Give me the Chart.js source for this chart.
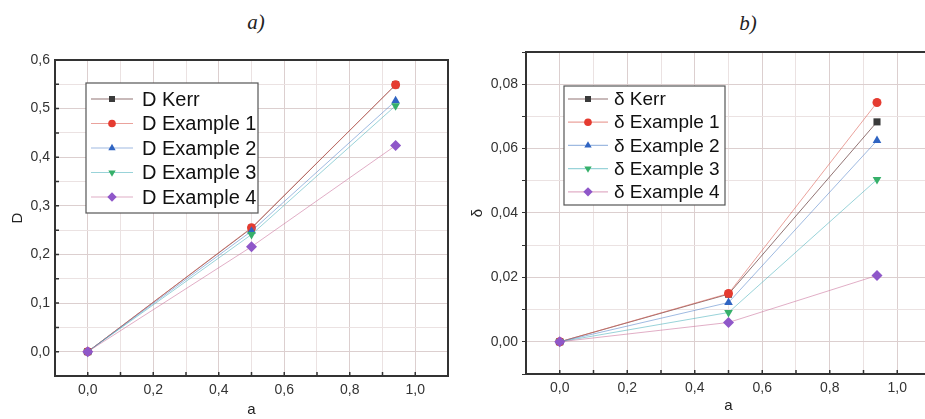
<!DOCTYPE html>
<html lang="en">
<head>
<meta charset="UTF-8">
<title>D and δ versus a</title>
<script src="https://cdn.jsdelivr.net/npm/chart.js"></script>
<style>
  html, body { margin: 0; padding: 0; background: #fff; overflow: hidden; width: 925px; height: 419px; }
  .panel { position: absolute; top: 0; }
  .panel-title {
    position: absolute;
    font-family: "Liberation Serif", "DejaVu Serif", serif;
    font-style: italic;
    font-size: 21px;
    color: #222;
    transform: translateX(-50%);
  }
</style>
</head>
<body>
<div class="panel-title" style="left:256px; top:10px;">a)</div>
<div class="panel-title" style="left:748px; top:11px;">b)</div>
<div class="panel" style="left:0;"><canvas id="chartD" width="460" height="419"></canvas></div>
<div class="panel" style="left:460px;"><canvas id="chartDelta" width="480" height="419"></canvas></div>

<script>
// spin parameter a (same three points for every curve)
const aValues = [0, 0.5, 0.94];

// panel a) : D
const dKerr = [0, 0.254, 0.549];
const dEx1  = [0, 0.255, 0.549];
const dEx2  = [0, 0.248, 0.516];
const dEx3  = [0, 0.241, 0.506];
const dEx4  = [0, 0.216, 0.424];

// panel b) : delta
const deltaKerr = [0, 0.0148, 0.0683];
const deltaEx1  = [0, 0.0150, 0.0743];
const deltaEx2  = [0, 0.0122, 0.0625];
const deltaEx3  = [0, 0.0091, 0.0504];
const deltaEx4  = [0, 0.0060, 0.0206];

const seriesNames = ['Kerr', 'Example 1', 'Example 2', 'Example 3', 'Example 4'];

// grid positions and the ones that carry a label
const aGrid      = [-0.1, 0, 0.1, 0.2, 0.3, 0.4, 0.5, 0.6, 0.7, 0.8, 0.9, 1.0, 1.1];
const aLabelled  = [0, 0.2, 0.4, 0.6, 0.8, 1.0];
const dGrid      = [-0.05, 0, 0.05, 0.1, 0.15, 0.2, 0.25, 0.3, 0.35, 0.4, 0.45, 0.5, 0.55, 0.6];
const dLabelled  = [0, 0.1, 0.2, 0.3, 0.4, 0.5, 0.6];
const deltaGrid     = [-0.01, 0, 0.01, 0.02, 0.03, 0.04, 0.05, 0.06, 0.07, 0.08, 0.09];
const deltaLabelled = [0, 0.02, 0.04, 0.06, 0.08];

// marker / line look per series
const markerColors   = ['#3a3a3a', '#e53b30', '#2f64c2', '#36b06a', '#8f57c9'];
const lineColors     = ['rgba(110,70,70,0.75)', 'rgba(220,100,90,0.6)', 'rgba(80,130,200,0.55)',
                        'rgba(70,175,185,0.55)', 'rgba(205,120,160,0.6)'];
const pointStyles    = ['rect', 'circle', 'triangle', 'triangle', 'rectRot'];
const pointRotations = [0, 0, 0, 180, 0];
const pointRadii     = [5, 4.5, 5, 5, 5.5];

const SANS = '"Liberation Sans", Arial, sans-serif';

function has(list, v) {
  return list.some(x => Math.abs(x - v) < 1e-9);
}

function commaLabel(v, digits) {
  if (Math.abs(v) < 1e-9) v = 0;
  return v.toFixed(digits).replace('.', ',');
}

// later series are painted over earlier ones
function buildDatasets(prefix, series) {
  return series.map((vals, i) => ({
    label: prefix + ' ' + seriesNames[i],
    data: aValues.map((a, j) => ({ x: a, y: vals[j] })),
    showLine: true,
    borderColor: lineColors[i],
    borderWidth: 1,
    pointStyle: pointStyles[i],
    pointRotation: pointRotations[i],
    pointRadius: pointRadii[i],
    pointBackgroundColor: markerColors[i],
    pointBorderColor: markerColors[i],
    pointBorderWidth: 0,
    order: -i
  }));
}

// frame on the top/right edges plus inward tick marks
const framePlugin = {
  id: 'frame',
  beforeDatasetsDraw(chart, args, opts) {
    const { ctx, chartArea: ca, scales } = chart;
    ctx.save();
    ctx.strokeStyle = '#333';
    ctx.lineWidth = 2;
    ctx.beginPath();
    ctx.moveTo(ca.left, ca.top);
    ctx.lineTo(ca.right, ca.top);
    ctx.lineTo(ca.right, ca.bottom);
    ctx.stroke();

    ctx.lineWidth = 1.5;
    ctx.beginPath();
    scales.x.ticks.forEach(t => {
      const px = scales.x.getPixelForValue(t.value);
      ctx.moveTo(px, ca.bottom);
      ctx.lineTo(px, ca.bottom - 4);
    });
    if (opts.inwardY) {
      scales.y.ticks.forEach(t => {
        const py = scales.y.getPixelForValue(t.value);
        ctx.moveTo(ca.left, py);
        ctx.lineTo(ca.left + 4, py);
      });
    }
    ctx.stroke();
    ctx.restore();
  }
};

// boxed legend sitting inside the plot area
const boxLegendPlugin = {
  id: 'boxLegend',
  afterDatasetsDraw(chart, args, o) {
    const { ctx, chartArea: ca } = chart;
    const bx = ca.left + o.dx, by = ca.top + o.dy;
    ctx.save();
    ctx.fillStyle = '#fff';
    ctx.fillRect(bx, by, o.w, o.h);
    ctx.strokeStyle = '#555';
    ctx.lineWidth = 1.2;
    ctx.strokeRect(bx, by, o.w, o.h);

    ctx.font = o.font;
    ctx.textBaseline = 'middle';
    chart.data.datasets.forEach((ds, i) => {
      const y = by + o.firstRow + i * o.rowH;
      const x0 = bx + o.lineX;
      ctx.strokeStyle = ds.borderColor;
      ctx.lineWidth = 1.2;
      ctx.beginPath();
      ctx.moveTo(x0, y);
      ctx.lineTo(x0 + o.lineLen, y);
      ctx.stroke();
      ctx.fillStyle = ds.pointBackgroundColor;
      Chart.helpers.drawPoint(ctx, {
        pointStyle: ds.pointStyle,
        rotation: ds.pointRotation,
        radius: ds.pointRadius * 0.85,
        borderWidth: 0
      }, x0 + o.lineLen / 2, y);
      ctx.fillStyle = '#111';
      ctx.fillText(ds.label, bx + o.textX, y + 1);
    });
    ctx.restore();
  }
};

function makeChart(id, cfg) {
  const gridColor = c => has(cfg.yLabelled, c.tick.value) ? '#dccfcf' : '#ebe2e2';
  const xGridColor = c => has(aLabelled, c.tick.value) ? '#dccfcf' : '#ebe2e2';
  return new Chart(document.getElementById(id), {
    type: 'scatter',
    data: { datasets: buildDatasets(cfg.prefix, cfg.series) },
    options: {
      responsive: false,
      animation: false,
      events: [],
      layout: { padding: { left: 0, top: cfg.padTop, right: cfg.padRight, bottom: 0 } },
      plugins: {
        legend: { display: false },
        tooltip: { enabled: false },
        frame: { inwardY: cfg.inwardY },
        boxLegend: cfg.legend
      },
      scales: {
        x: {
          type: 'linear',
          min: -0.1,
          max: 1.1,
          afterBuildTicks: s => { s.ticks = aGrid.map(v => ({ value: v })); },
          afterFit: s => { s.height = cfg.xHeight; },
          grid: { color: xGridColor, lineWidth: 1, drawTicks: true, tickLength: 4, tickColor: 'rgba(0,0,0,0)' },
          border: { color: '#333', width: 2 },
          ticks: {
            autoSkip: false,
            maxRotation: 0,
            padding: 2,
            color: '#333',
            font: { family: SANS, size: 14 },
            callback: v => has(aLabelled, v) ? commaLabel(v, 1) : ''
          },
          title: {
            display: true,
            text: 'a',
            color: '#222',
            font: { family: SANS, size: 15 },
            padding: { top: 0, bottom: cfg.xTitlePad }
          }
        },
        y: {
          type: 'linear',
          min: cfg.yMin,
          max: cfg.yMax,
          afterBuildTicks: s => { s.ticks = cfg.yGrid.map(v => ({ value: v })); },
          afterFit: s => { s.width = cfg.yWidth; },
          grid: {
            color: gridColor,
            lineWidth: 1,
            drawTicks: true,
            tickLength: 4,
            tickColor: cfg.inwardY ? 'rgba(0,0,0,0)' : '#333'
          },
          border: { color: '#333', width: 2 },
          ticks: {
            autoSkip: false,
            padding: cfg.yTickPad,
            color: '#333',
            font: { family: SANS, size: 14 },
            callback: v => has(cfg.yLabelled, v) ? commaLabel(v, cfg.digits) : ''
          },
          title: {
            display: true,
            text: cfg.prefix,
            color: '#222',
            font: { family: SANS, size: 15 },
            padding: { top: 9, bottom: 0 }
          }
        }
      }
    },
    plugins: [framePlugin, boxLegendPlugin]
  });
}

makeChart('chartD', {
  prefix: 'D',
  series: [dKerr, dEx1, dEx2, dEx3, dEx4],
  yMin: -0.05, yMax: 0.6,
  yGrid: dGrid, yLabelled: dLabelled, digits: 1,
  padTop: 60, padRight: 12, yWidth: 55, xHeight: 43,
  yTickPad: 1, xTitlePad: 0, inwardY: true,
  legend: { dx: 31, dy: 23, w: 172, h: 130, firstRow: 16, rowH: 24.5,
            lineX: 5, lineLen: 42, textX: 56, font: '20px ' + SANS }
});

makeChart('chartDelta', {
  prefix: 'δ',
  series: [deltaKerr, deltaEx1, deltaEx2, deltaEx3, deltaEx4],
  yMin: -0.01, yMax: 0.09,
  yGrid: deltaGrid, yLabelled: deltaLabelled, digits: 2,
  padTop: 52, padRight: 9, yWidth: 66, xHeight: 45,
  yTickPad: 4, xTitlePad: 4, inwardY: false,
  legend: { dx: 38, dy: 34, w: 161, h: 119, firstRow: 13, rowH: 23.2,
            lineX: 4, lineLen: 40, textX: 50, font: '19px ' + SANS }
});
</script>
</body>
</html>
